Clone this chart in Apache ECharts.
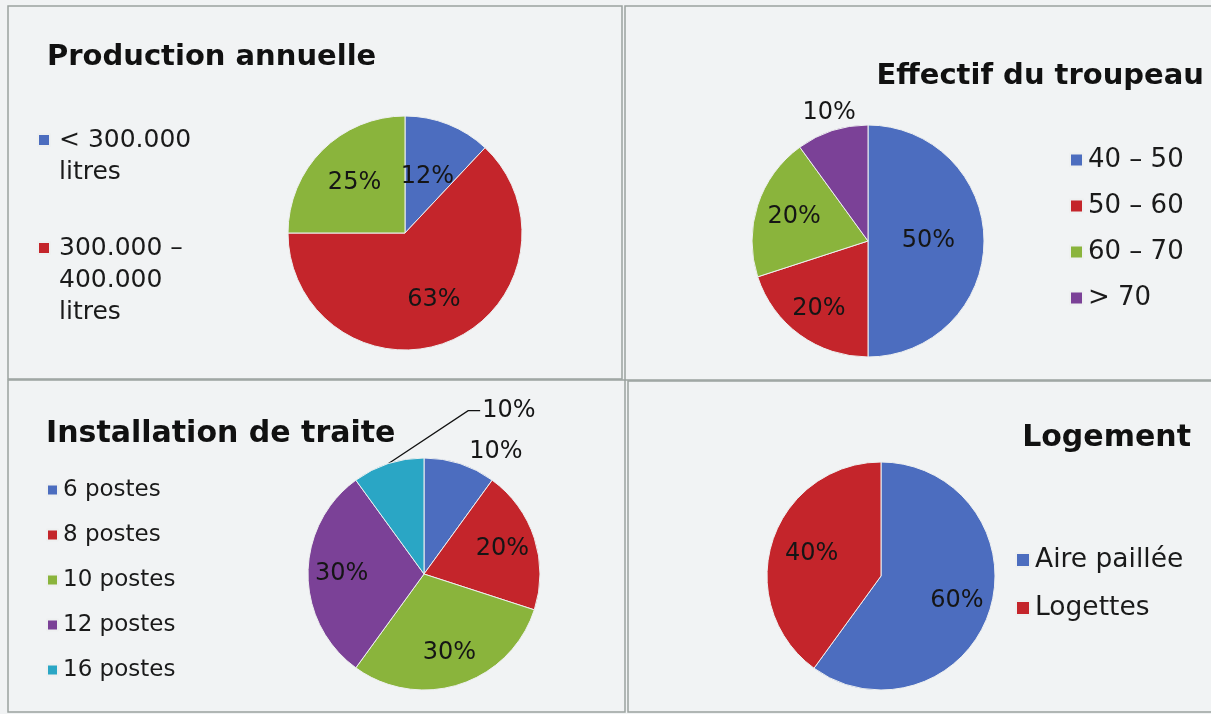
<!DOCTYPE html>
<html>
<head>
<meta charset="utf-8">
<script src="https://cdn.jsdelivr.net/npm/echarts@6/dist/echarts.min.js"></script>
<style>
html,body{margin:0;padding:0;background:#f1f3f4;}
#main{width:1211px;height:714px;}
</style>
</head>
<body>
<div id="main"></div>
<script>
// ---- Data ----
const titles = ['Production annuelle', 'Effectif du troupeau', 'Installation de traite', 'Logement'];

const prodNames = ['< 300.000 litres', '300.000 – 400.000 litres', '> 400.000 litres'];
const prodValues = [12, 63, 25];

const effNames = ['40 – 50', '50 – 60', '60 – 70', '> 70'];
const effValues = [50, 20, 20, 10];

const traiteNames = ['6 postes', '8 postes', '10 postes', '12 postes', '16 postes'];
const traiteValues = [10, 20, 30, 30, 10];

const logNames = ['Aire paillée', 'Logettes'];
const logValues = [60, 40];

// ---- Styles / layout ----
const BLUE = '#4c6dbf', RED = '#c4252b', GREEN = '#8ab43c', PURPLE = '#7b4197', TEAL = '#2aa6c5';
const FONT = 'DejaVu Sans';
const BORDER = '#9aa39f';

// pie geometry (layout, not data)
const PIES = [
  { center: [405, 233], r: 117, frac: [0.52, 0.62, 0.61] },
  { center: [868, 241], r: 116, frac: [0.52, 0.72, 0.67, null] },
  { center: [424, 574], r: 116, frac: [null, 0.71, 0.71, 0.71, null] },
  { center: [881, 576], r: 114, frac: [0.70, 0.64] }
];

function mk(names, values) {
  return names.map((n, i) => ({ name: n, value: values[i] }));
}

function radialLayout(pie, special) {
  return function (p) {
    if (special) {
      const s = special(p);
      if (s) return s;
    }
    const f = pie.frac[p.dataIndex];
    if (f == null || !p.labelRect) return;
    const lr = p.labelRect;
    const lx = lr.x + lr.width / 2, ly = lr.y + lr.height / 2;
    const dx = lx - pie.center[0], dy = ly - pie.center[1];
    const d = Math.sqrt(dx * dx + dy * dy) || 1;
    return {
      x: pie.center[0] + dx / d * pie.r * f,
      y: pie.center[1] + dy / d * pie.r * f,
      align: 'center', verticalAlign: 'middle'
    };
  };
}

const chart = echarts.init(document.getElementById('main'), null, { renderer: 'canvas' });

const baseLabel = { show: true, position: 'inside', formatter: '{c}%', color: '#151515', fontFamily: FONT, fontSize: 24 };
const pieCommon = {
  type: 'pie', startAngle: 90, clockwise: true, animation: false, silent: true,
  itemStyle: { borderColor: '#eef0f0', borderWidth: 1 },
  label: baseLabel, labelLine: { show: false }, emphasis: { disabled: true }
};

const titleStyle = (size) => ({ fontFamily: FONT, fontWeight: 'bold', fontSize: size, color: '#111' });
const legendText = (size, lh) => ({ fontFamily: FONT, fontSize: size, color: '#1a1a1a', lineHeight: lh });

const prodData = mk(prodNames, prodValues);

const effData = mk(effNames, effValues);
effData[3].label = { position: 'outside' };
effData[3].labelLine = { show: false, length: 4, length2: 0 };

const traiteData = mk(traiteNames, traiteValues);
traiteData[0].label = { position: 'outside' };
traiteData[0].labelLine = { show: false, length: 8, length2: 4 };
traiteData[4].label = { position: 'outside' };
traiteData[4].labelLine = { show: true, length: 10, length2: 10, lineStyle: { color: '#111', width: 1.3 } };

const option = {
  backgroundColor: '#f1f3f4',
  animation: false,
  title: [
    { text: titles[0], left: 47, top: 43, padding: 0, textStyle: titleStyle(29) },
    { text: titles[1], right: 7, top: 62, padding: 0, textStyle: titleStyle(29) },
    { text: titles[2], left: 46, top: 419, padding: 0, textStyle: titleStyle(30) },
    { text: titles[3], right: 20, top: 423, padding: 0, textStyle: titleStyle(30) }
  ],
  legend: [
    { data: [prodNames[0]], left: 37, top: 92, padding: 0,
      orient: 'vertical', icon: 'rect', itemWidth: 12, itemHeight: 12, selectedMode: false,
      formatter: () => '\n< 300.000\nlitres', textStyle: Object.assign(legendText(25, 32), { padding: [0, 0, 0, 4] }) },
    { data: [prodNames[1]], left: 37, top: 168, padding: 0,
      orient: 'vertical', icon: 'rect', itemWidth: 12, itemHeight: 12, selectedMode: false,
      formatter: () => '\n\n300.000 –\n400.000\nlitres', textStyle: Object.assign(legendText(25, 32), { padding: [0, 0, 0, 4] }) },
    { data: effNames, left: 1069, top: 146, padding: 0, orient: 'vertical', icon: 'rect',
      itemWidth: 13, itemHeight: 13, itemGap: 18, selectedMode: false, textStyle: legendText(26, 28) },
    { data: traiteNames, left: 46, top: 476, padding: 0, orient: 'vertical', icon: 'rect',
      itemWidth: 11, itemHeight: 11, itemGap: 17, selectedMode: false, textStyle: legendText(23, 28) },
    { data: logNames, left: 1015, top: 546, padding: 0, orient: 'vertical', icon: 'rect',
      itemWidth: 14, itemHeight: 14, itemGap: 20, selectedMode: false, textStyle: legendText(26.5, 28) }
  ],
  graphic: [
    { type: 'rect', shape: { x: 8, y: 6, width: 614, height: 373 }, style: { fill: 'none', stroke: BORDER, lineWidth: 1.5 }, silent: true },
    { type: 'rect', shape: { x: 625, y: 6, width: 600, height: 374 }, style: { fill: 'none', stroke: BORDER, lineWidth: 1.5 }, silent: true },
    { type: 'rect', shape: { x: 8, y: 380, width: 617, height: 332 }, style: { fill: 'none', stroke: BORDER, lineWidth: 1.5 }, silent: true },
    { type: 'rect', shape: { x: 628, y: 381, width: 600, height: 331 }, style: { fill: 'none', stroke: BORDER, lineWidth: 1.5 }, silent: true }
  ],
  series: [
    Object.assign({}, pieCommon, {
      name: titles[0], center: PIES[0].center, radius: PIES[0].r,
      color: [BLUE, RED, GREEN], data: prodData,
      labelLayout: radialLayout(PIES[0])
    }),
    Object.assign({}, pieCommon, {
      name: titles[1], center: PIES[1].center, radius: PIES[1].r,
      color: [BLUE, RED, GREEN, PURPLE], data: effData,
      labelLayout: radialLayout(PIES[1], function (p) {
        if (p.dataIndex === 3 && p.labelLinePoints) {
          const q = p.labelLinePoints[0];
          return { x: q[0] - 3, y: q[1] - 18, align: 'center', verticalAlign: 'middle' };
        }
      })
    }),
    Object.assign({}, pieCommon, {
      name: titles[2], center: PIES[2].center, radius: PIES[2].r,
      color: [BLUE, RED, GREEN, PURPLE, TEAL], data: traiteData,
      labelLayout: radialLayout(PIES[2], function (p) {
        if (p.dataIndex === 0 && p.labelLinePoints) {
          const q = p.labelLinePoints[0];
          return { x: q[0] + 36, y: q[1] - 12, align: 'center', verticalAlign: 'middle' };
        }
        if (p.dataIndex === 4 && p.labelLinePoints) {
          const q = p.labelLinePoints[0];
          return {
            x: q[0] + 94, y: q[1] - 53, align: 'left', verticalAlign: 'middle',
            labelLinePoints: [[q[0], q[1]], [q[0] + 80, q[1] - 53], [q[0] + 92, q[1] - 53]]
          };
        }
      })
    }),
    Object.assign({}, pieCommon, {
      name: titles[3], center: PIES[3].center, radius: PIES[3].r,
      color: [BLUE, RED], data: mk(logNames, logValues),
      labelLayout: radialLayout(PIES[3])
    })
  ]
};

chart.setOption(option);
</script>
</body>
</html>
